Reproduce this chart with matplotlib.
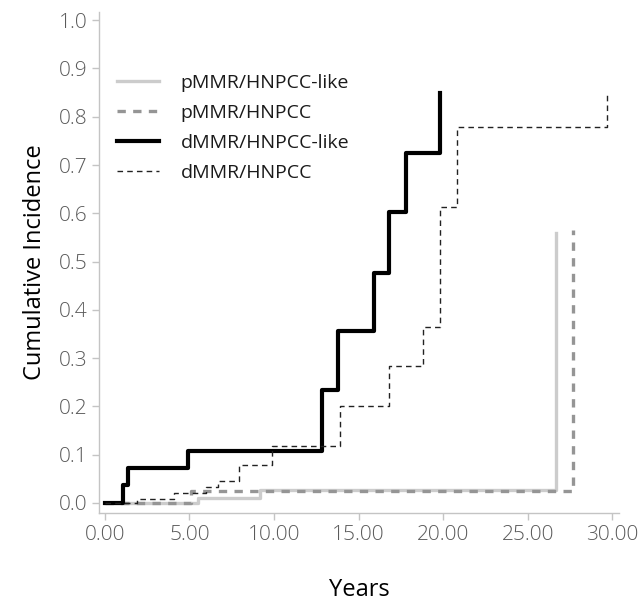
import matplotlib
matplotlib.use("Agg")
import matplotlib.pyplot as plt
from matplotlib.ticker import FormatStrFormatter

# step times (years) and cumulative incidence
pmmr_like_t = [0, 5.5, 9.2, 26.7, 26.7]
pmmr_like_y = [0, 0.010, 0.027, 0.027, 0.559]

pmmr_t = [0, 5.1, 27.7, 27.7]
pmmr_y = [0, 0.025, 0.025, 0.565]

dmmr_like_t = [0, 1.04, 1.38, 4.9, 12.85, 13.8, 15.9, 16.8, 17.8, 19.8, 19.8]
dmmr_like_y = [0, 0.037, 0.072, 0.108, 0.234, 0.356, 0.477, 0.602, 0.724, 0.724, 0.849]

dmmr_t = [0, 1.9, 4.1, 6.0, 6.7, 7.9, 9.9, 13.9, 16.8, 18.8, 19.8, 20.8, 29.7, 29.7]
dmmr_y = [0, 0.008, 0.021, 0.033, 0.046, 0.079, 0.118, 0.20, 0.284, 0.365, 0.613, 0.778, 0.778, 0.849]

labels = ["pMMR/HNPCC-like", "pMMR/HNPCC", "dMMR/HNPCC-like", "dMMR/HNPCC"]
x_ticks = [0, 5, 10, 15, 20, 25, 30]
y_ticks = [0.0, 0.1, 0.2, 0.3, 0.4, 0.5, 0.6, 0.7, 0.8, 0.9, 1.0]

plt.rcParams["font.family"] = ["Open Sans", "DejaVu Sans"]

fig = plt.figure(figsize=(6.42, 6.06), dpi=100)
ax = fig.add_axes([99 / 642, 1 - 513 / 606, 520 / 642, 501 / 606])

ax.step(pmmr_like_t, pmmr_like_y, where="post", color="#cccccc", lw=2.4, label=labels[0])
ax.step(pmmr_t, pmmr_y, where="post", color="#959595", lw=2.4, dashes=(2.5, 2.2), label=labels[1])
ax.step(dmmr_like_t, dmmr_like_y, where="post", color="black", lw=3.0, label=labels[2])
ax.step(dmmr_t, dmmr_y, where="post", color="#222222", lw=1.0, dashes=(4, 3), label=labels[3])

ax.set_xlim(-0.35, 30.4)
ax.set_ylim(-0.021, 1.017)
ax.set_xticks(x_ticks)
ax.set_yticks(y_ticks)
ax.xaxis.set_major_formatter(FormatStrFormatter("%.2f"))
ax.yaxis.set_major_formatter(FormatStrFormatter("%.1f"))

for side in ["top", "right"]:
    ax.spines[side].set_visible(False)
for side in ["left", "bottom"]:
    ax.spines[side].set_color("#c4c4c4")
    ax.spines[side].set_linewidth(1.0)
ax.tick_params(colors="#c4c4c4", labelcolor="#5a5a5a", labelsize=15, length=5, width=1)
for t in ax.get_xticklabels() + ax.get_yticklabels():
    t.set_fontweight("light")

ax.set_xlabel("Years", fontsize=17, color="black", labelpad=24)
ax.set_ylabel("Cumulative Incidence", fontsize=17, color="black", labelpad=8)

leg = ax.legend(loc="upper left", bbox_to_anchor=(0.0, 0.912), frameon=False,
                fontsize=14, handlelength=2.2, handletextpad=1.1, labelspacing=0.62)
for t in leg.get_texts():
    t.set_color("#1a1a1a")

fig.savefig("out.png", dpi=100)
